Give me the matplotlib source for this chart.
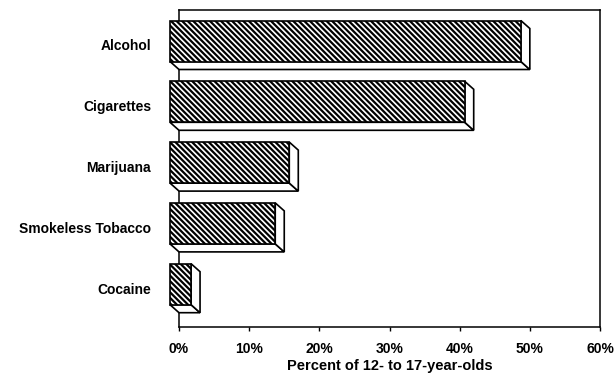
import matplotlib
matplotlib.use("Agg")
import matplotlib.pyplot as plt
from matplotlib.patches import Polygon, Rectangle

categories = ["Alcohol", "Cigarettes", "Marijuana", "Smokeless Tobacco", "Cocaine"]
values = [50, 42, 17, 15, 3]
xticks = [0, 10, 20, 30, 40, 50, 60]
xticklabels = ["0%", "10%", "20%", "30%", "40%", "50%", "60%"]
xlabel = "Percent of 12- to 17-year-olds"

plt.rcParams['font.family'] = ['Liberation Sans', 'DejaVu Sans']
plt.rcParams['hatch.linewidth'] = 1.6
plt.rcParams['hatch.color'] = 'black'

W, H = 616, 388
fig = plt.figure(figsize=(W / 100, H / 100), dpi=100)
ax_l, ax_r, ax_t, ax_b = 179, 600, 10, 327
ax = fig.add_axes([ax_l / W, (H - ax_b) / H, (ax_r - ax_l) / W, (ax_b - ax_t) / H])

spacing_px = 60.8
first_px = 49.0
ymin = (ax_b - first_px) / spacing_px
ymax = (ax_t - first_px) / spacing_px
ax.set_xlim(0, 60)
ax.set_ylim(ymin, ymax)

px_per_x = (ax_r - ax_l) / 60.0
dx = 9 / px_per_x
dy = 8 / spacing_px
h = 41 / spacing_px

lw = 1.2
for i, v in enumerate(values):
    bottom = Polygon([(-dx, i - dy + h / 2), (v - dx, i - dy + h / 2), (v, i + h / 2), (0, i + h / 2)],
                     closed=True, facecolor='white', edgecolor='black', linewidth=lw, zorder=3, clip_on=False)
    right = Polygon([(v - dx, i - dy - h / 2), (v, i - h / 2), (v, i + h / 2), (v - dx, i - dy + h / 2)],
                    closed=True, facecolor='white', edgecolor='black', linewidth=lw, zorder=3, clip_on=False)
    front = Rectangle((-dx, i - dy - h / 2), v, h, facecolor='white', edgecolor='black',
                      hatch='\\' * 6, linewidth=lw, zorder=4, clip_on=False)
    ax.add_patch(bottom)
    ax.add_patch(right)
    ax.add_patch(front)

ax.set_yticks([i - dy / 2 for i in range(len(categories))])
ax.set_yticklabels(categories, fontsize=10, fontweight='bold')
ax.tick_params(axis='y', length=0, pad=20)

ax.set_xticks(xticks)
ax.set_xticklabels(xticklabels, fontsize=10, fontweight='bold')
ax.tick_params(axis='x', direction='out', length=3, width=1, pad=8)
ax.set_xlabel(xlabel, fontsize=10.5, fontweight='bold', labelpad=2)

for s in ax.spines.values():
    s.set_linewidth(1.1)
    s.set_color('black')

fig.savefig("out.png", dpi=100)
